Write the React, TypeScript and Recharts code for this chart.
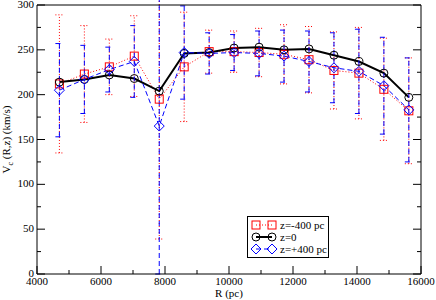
import { ComposedChart, Line, XAxis, YAxis, ErrorBar, Legend } from 'recharts';

const radii = [4700, 5480, 6260, 7040, 7820, 8600, 9380, 10160, 10940, 11720, 12500, 13280, 14060, 14840, 15620];

// z = -400 pc
const vcBelow = [212, 223, 231, 243, 195, 231, 248, 248, 247, 245, 239, 227, 224, 206, 182];
const errBelow = [77, 54, 31, 45, 156, 61, 24, 23, 27, 33, 37, 43, 51, 57, 59];
// z = 0
const vcMid = [214, 217, 222, 218, 204, 246, 247, 252, 253, 250, 251, 244, 237, 224, 197];
// z = +400 pc
const vcAbove = [205, 217, 228, 237, 165, 247, 246, 247, 246, 243, 237, 230, 226, 210, 183];
const errAbove = [52, 38, 25, 40, 165, 52, 23, 20, 25, 29, 34, 39, 47, 54, 58];

const xTicks = [4000, 5000, 6000, 7000, 8000, 9000, 10000, 11000, 12000, 13000, 14000, 15000, 16000];
const xLabels = [4000, 6000, 8000, 10000, 12000, 14000, 16000];
const yTicks = [0, 25, 50, 75, 100, 125, 150, 175, 200, 225, 250, 275, 300];
const yLabels = [0, 50, 100, 150, 200, 250, 300];

const legendOrder = ['below', 'mid', 'above'];

const rows = radii.map((r, i) => ({
  r,
  below: vcBelow[i],
  errBelow: errBelow[i],
  mid: vcMid[i],
  above: vcAbove[i],
  errAbove: errAbove[i],
}));

const FONT = '"Liberation Serif", "Times New Roman", serif';
const RED = '#ff0000';
const BLUE = '#0000ff';

const square = (cx: number, cy: number, color: string, key?: any) => (
  <rect key={key} x={cx - 4} y={cy - 4} width={8} height={8} fill="none" stroke={color} strokeWidth={1} />
);
const circle = (cx: number, cy: number, color: string, key?: any) => (
  <circle key={key} cx={cx} cy={cy} r={4} fill="none" stroke={color} strokeWidth={1} />
);
const diamond = (cx: number, cy: number, color: string, key?: any) => (
  <path key={key} d={`M${cx},${cy - 5}L${cx + 5},${cy}L${cx},${cy + 5}L${cx - 5},${cy}Z`} fill="none" stroke={color} strokeWidth={1} />
);

const markers: Record<string, (cx: number, cy: number, c: string, k?: any) => any> = {
  below: square,
  mid: circle,
  above: diamond,
};

const BottomTick = ({ x, y, payload }: any) => {
  const major = xLabels.includes(payload.value);
  return (
    <g>
      <line x1={x} x2={x} y1={y} y2={y - (major ? 8 : 4)} stroke="#000" />
      {major && (
        <text x={x} y={y + 11} textAnchor="middle" fontSize={11} fontFamily={FONT} fill="#000">
          {payload.value}
        </text>
      )}
    </g>
  );
};

const TopTick = ({ x, y, payload }: any) => {
  const major = xLabels.includes(payload.value);
  return <line x1={x} x2={x} y1={y} y2={y + (major ? 8 : 4)} stroke="#000" />;
};

const LeftTick = ({ x, y, payload }: any) => {
  const major = yLabels.includes(payload.value);
  return (
    <g>
      <line x1={x} x2={x + (major ? 8 : 4)} y1={y} y2={y} stroke="#000" />
      {major && (
        <text x={x - 3} y={y + 3} textAnchor="end" fontSize={11} fontFamily={FONT} fill="#000">
          {payload.value}
        </text>
      )}
    </g>
  );
};

const RightTick = ({ x, y, payload }: any) => {
  const major = yLabels.includes(payload.value);
  return <line x1={x} x2={x - (major ? 8 : 4)} y1={y} y2={y} stroke="#000" />;
};

const renderYLabel = () => (
  <text x={0} y={0} transform="translate(10,139.5) rotate(-90)" textAnchor="middle" fontSize={11} fontFamily={FONT} fill="#000">
    V<tspan fontSize={8} dy={3}>c</tspan>
    <tspan dy={-3}> (R,z) (km/s)</tspan>
  </text>
);

const renderXLabel = () => (
  <text x={229} y={297} textAnchor="middle" fontSize={11} fontFamily={FONT} fill="#000">
    R (pc)
  </text>
);

const renderLegend = ({ payload }: any) => {
  const items = [...(payload || [])].sort(
    (a: any, b: any) => legendOrder.indexOf(a.dataKey) - legendOrder.indexOf(b.dataKey)
  );
  return (
    <div style={{ border: '1px solid #000', background: '#fff', width: 80, height: 40 }}>
      <svg width={80} height={40} style={{ display: 'block' }}>
        {items.map((item: any, i: number) => {
          const cy = 8 + i * 12;
          const mk = markers[item.dataKey];
          const dash = item.payload?.strokeDasharray;
          return (
            <g key={item.dataKey}>
              <line x1={8} x2={24} y1={cy} y2={cy} stroke={item.color} strokeWidth={item.dataKey === 'mid' ? 2 : 1} strokeDasharray={dash} />
              {mk(8, cy, item.color)}
              {mk(24, cy, item.color)}
              <text x={32} y={cy + 4} fontSize={11} fontFamily={FONT} fill="#000">
                {item.value}
              </text>
            </g>
          );
        })}
      </svg>
    </div>
  );
};

export default function App() {
  return (
    <div style={{ position: 'absolute', left: 0, top: 0, width: 436, height: 300, background: '#fff' }}>
      <ComposedChart width={436} height={300} data={rows} margin={{ top: 0, right: 0, bottom: 0, left: 0 }}>
        <XAxis
          dataKey="r"
          type="number"
          domain={[4000, 16000]}
          ticks={xTicks}
          interval={0}
          allowDataOverflow
          tick={BottomTick}
          tickLine={false}
          tickSize={0}
          tickMargin={0}
          height={26}
          axisLine={{ stroke: '#000' }}
          label={renderXLabel}
        />
        <XAxis
          xAxisId="top"
          orientation="top"
          type="number"
          domain={[4000, 16000]}
          ticks={xTicks}
          interval={0}
          allowDataOverflow
          tick={TopTick}
          tickLine={false}
          tickSize={0}
          tickMargin={0}
          height={5}
          axisLine={{ stroke: '#000' }}
        />
        <YAxis
          type="number"
          domain={[0, 300]}
          ticks={yTicks}
          interval={0}
          allowDataOverflow
          tick={LeftTick}
          tickLine={false}
          tickSize={0}
          tickMargin={0}
          width={37}
          axisLine={{ stroke: '#000' }}
          label={renderYLabel}
        />
        <YAxis
          yAxisId="right"
          orientation="right"
          type="number"
          domain={[0, 300]}
          ticks={yTicks}
          interval={0}
          allowDataOverflow
          tick={RightTick}
          tickLine={false}
          tickSize={0}
          tickMargin={0}
          width={15}
          axisLine={{ stroke: '#000' }}
        />
        <Line
          dataKey="below"
          name="z=-400 pc"
          stroke={RED}
          strokeWidth={1}
          strokeDasharray="1 2"
          dot={(p: any) => square(p.cx, p.cy, RED, p.key ?? p.index)}
          activeDot={false}
          isAnimationActive={false}
        >
          <ErrorBar dataKey="errBelow" direction="y" width={4} stroke={RED} strokeWidth={1} strokeDasharray="1 2" />
        </Line>
        <Line
          dataKey="mid"
          name="z=0"
          stroke="#000"
          strokeWidth={2}
          dot={(p: any) => circle(p.cx, p.cy, '#000', p.key ?? p.index)}
          activeDot={false}
          isAnimationActive={false}
        />
        <Line
          dataKey="above"
          name="z=+400 pc"
          stroke={BLUE}
          strokeWidth={1}
          strokeDasharray="5 3"
          dot={(p: any) => diamond(p.cx, p.cy, BLUE, p.key ?? p.index)}
          activeDot={false}
          isAnimationActive={false}
        >
          <ErrorBar dataKey="errAbove" direction="y" width={4} stroke={BLUE} strokeWidth={1} strokeDasharray="5 3" />
        </Line>
        <Legend
          layout="vertical"
          align="center"
          verticalAlign="middle"
          content={renderLegend}
          wrapperStyle={{ left: 247, top: 216, width: 82, height: 42 }}
        />
      </ComposedChart>
    </div>
  );
}
